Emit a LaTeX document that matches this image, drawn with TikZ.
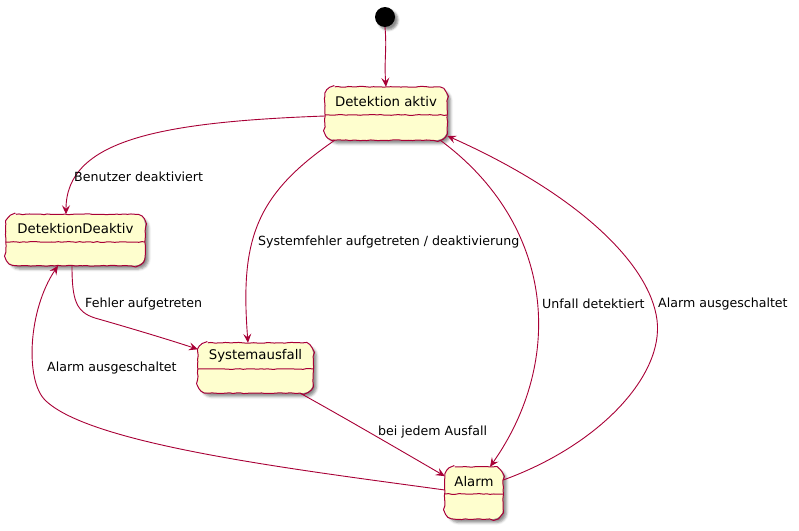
\documentclass[tikz,border=0pt]{standalone}
\usepackage{fontspec}
\setmainfont{DejaVu Sans}
\usetikzlibrary{arrows.meta,decorations.pathmorphing,shadows.blur}
\definecolor{umlred}{HTML}{A80036}
\definecolor{umlfill}{HTML}{FEFECE}
% hand-drawn outline of a rounded state box, drawn over the filled node
\newcommand\sketchborder[1]{%
  \begin{scope}[y=1pt]
  \draw[divider] ([xshift=10pt]#1.north west) -- ([xshift=-10pt]#1.north east)
    arc[start angle=90,end angle=0,radius=10pt] -- ([yshift=10pt]#1.south east)
    arc[start angle=0,end angle=-90,radius=10pt] -- ([xshift=10pt]#1.south west)
    arc[start angle=-90,end angle=-180,radius=10pt] -- ([yshift=-10pt]#1.north west)
    arc[start angle=180,end angle=90,radius=10pt] -- cycle;
  \end{scope}}
\begin{document}
\pgfmathsetseed{7}
\begin{tikzpicture}[x=1pt,y=-1pt,
  sketch/.style={decorate,decoration={random steps,segment length=3.5pt,amplitude=0.4pt}},
  statebox/.style={fill=umlfill, rounded corners=10pt, inner sep=0pt,
    blur shadow={shadow xshift=3.5pt, shadow yshift=-3.5pt, shadow blur radius=2.5pt, shadow opacity=45}},
  title/.style={font=\fontsize{13.3}{16}\selectfont, inner sep=0pt},
  divider/.style={draw=umlred, line width=1pt, sketch},
  trans/.style={draw=umlred, line width=0.9pt, -{Stealth[length=9pt,width=8pt,inset=3.5pt]}},
  lbl/.style={font=\fontsize{12.6}{15}\selectfont, anchor=west, inner sep=0pt}
]
\useasboundingbox (0,0) rectangle (799,530);

% initial pseudo state
\node[circle, fill=black, minimum size=20pt, inner sep=0pt,
  blur shadow={shadow xshift=3pt, shadow yshift=-3pt, shadow blur radius=2pt, shadow opacity=45}] (init) at (385,17) {};

% states
\node[statebox, minimum width=122pt, minimum height=53pt] (da) at (386,113.5) {};
\node[title] (daT) at (386,102) {Detektion aktiv};
\draw[divider] ([yshift=-1.5pt]da.west) -- ([yshift=-1.5pt]da.east);
\sketchborder{da}

\node[statebox, minimum width=139pt, minimum height=51pt] (dd) at (75.5,240) {};
\node[title] (ddT) at (75.5,229) {DetektionDeaktiv};
\draw[divider] ([yshift=-2pt]dd.west) -- ([yshift=-2pt]dd.east);
\sketchborder{dd}

\node[statebox, minimum width=115pt, minimum height=50pt] (sa) at (255.5,368) {};
\node[title] (saT) at (255.5,356) {Systemausfall};
\draw[divider] ([yshift=-1pt]sa.west) -- ([yshift=-1pt]sa.east);
\sketchborder{sa}

\node[statebox, minimum width=58pt, minimum height=52pt] (al) at (474,493) {};
\node[title] (alT) at (474,482) {Alarm};
\draw[divider] ([yshift=-1pt]al.west) -- ([yshift=-1pt]al.east);
\sketchborder{al}

% transitions
\draw[trans] (init.south) .. controls (387,50) and (384,60) .. (da.north);

\draw[trans] ([yshift=-2.5pt]da.west) .. controls (160,122) and (66,140) .. ([xshift=-9.5pt]dd.north);
\node[lbl] (l1) at (74,177) {Benutzer deaktiviert};

\draw[trans] ([xshift=10pt]da.south west) .. controls (255,195) and (240,240) .. ([xshift=-7.5pt]sa.north);
\node[lbl] (l2) at (258,242) {Systemfehler aufgetreten / deaktivierung};

\draw[trans] ([xshift=-7pt]da.south east) .. controls (555,225) and (565,360) .. ([xshift=16pt]al.north);
\node[lbl] (l3) at (542,304) {Unfall detektiert};

\draw[trans] ([yshift=13pt]al.east) .. controls (600,445) and (664,375) .. (657,320)
  .. controls (650,265) and (580,195) .. (da.-20);
\node[lbl] (l4) at (658,304) {Alarm ausgeschaltet};

\draw[trans] ([xshift=-3.5pt]dd.south) .. controls (72,300) and (76,312) .. (95,318)
  .. controls (130,328) and (170,340) .. (sa.162);
\node[lbl] (l5) at (85,304) {Fehler aufgetreten};

\draw[trans] ([xshift=-13pt]sa.south east) .. controls (345,418) and (405,453) .. (al.150);
\node[lbl] (l6) at (378,432) {bei jedem Ausfall};

\draw[trans] ([yshift=3pt]al.west) .. controls (300,470) and (90,445) .. (45,400)
  .. controls (25,380) and (28,310) .. ([xshift=-17.5pt]dd.south);
\node[lbl] (l7) at (47,368) {Alarm ausgeschaltet};
\end{tikzpicture}
\end{document}
